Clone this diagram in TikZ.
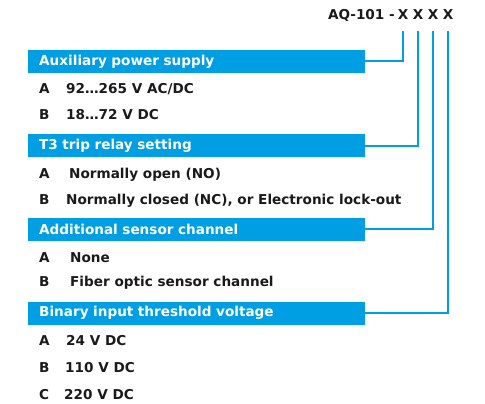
\documentclass[tikz,border=0pt]{standalone}
\usepackage{fontspec}
\setmainfont{DejaVu Sans}
\usetikzlibrary{positioning}
\definecolor{codeblue}{RGB}{0,159,227}
\definecolor{codetext}{RGB}{26,26,26}

\begin{document}
\begin{tikzpicture}[x=1pt, y=-1pt,
  every node/.style={font=\bfseries\fontsize{13.6}{15}\selectfont, text=codetext},
  bar/.style={fill=codeblue, text=white, anchor=west, minimum height=23pt,
    inner xsep=11pt, inner ysep=0pt, text width=315pt, align=left},
  item/.style={anchor=base west, inner sep=0pt},
  code/.style={anchor=base, inner sep=0pt},
  link/.style={codeblue, line width=2pt}]
  \useasboundingbox (0,0) rectangle (485,404);
  % ordering code
  \node[item, anchor=base east] (model) at (395,20) {AQ-101 -};
  \node[code] (x1) at (403,20) {X};
  \node[code] (x2) at (418,20) {X};
  \node[code] (x3) at (433,20) {X};
  \node[code] (x4) at (448,20) {X};
  % Auxiliary power supply
  \node[bar] (aux) at (28,61.5) {Auxiliary power supply};
  \node[item] (auxA) at (39,94) {A};
  \node[item] (auxAt) at (66,94) {92…265 V AC/DC};
  \node[item] (auxB) at (39,120) {B};
  \node[item] (auxBt) at (66,120) {18…72 V DC};
  % T3 trip relay
  \node[bar] (trip) at (28,145.5) {T3 trip relay setting};
  \node[item] (tripA) at (39,178) {A};
  \node[item] (tripAt) at (69,178) {Normally open (NO)};
  \node[item] (tripB) at (39,204) {B};
  \node[item] (tripBt) at (66,204) {Normally closed (NC), or Electronic lock-out};
  % Sensor channel
  \node[bar] (sens) at (28,229) {Additional sensor channel};
  \node[item] (sensA) at (39,262) {A};
  \node[item] (sensAt) at (70,262) {None};
  \node[item] (sensB) at (39,286) {B};
  \node[item] (sensBt) at (70,286) {Fiber optic sensor channel};
  % Binary input threshold
  \node[bar] (bin) at (28,313) {Binary input threshold voltage};
  \node[item] (binA) at (39,345) {A};
  \node[item] (binAt) at (66,345) {24 V DC};
  \node[item] (binB) at (39,372) {B};
  \node[item] (binBt) at (65,372) {110 V DC};
  \node[item] (binC) at (39,399) {C};
  \node[item] (binCt) at (64,399) {220 V DC};
  % connectors
  \draw[link] ([yshift=-11pt]x1.south) |- (aux.east);
  \draw[link] ([yshift=-11pt]x2.south) |- (trip.east);
  \draw[link] ([yshift=-11pt]x3.south) |- (sens.east);
  \draw[link] ([yshift=-11pt]x4.south) |- (bin.east);
\end{tikzpicture}
\end{document}
